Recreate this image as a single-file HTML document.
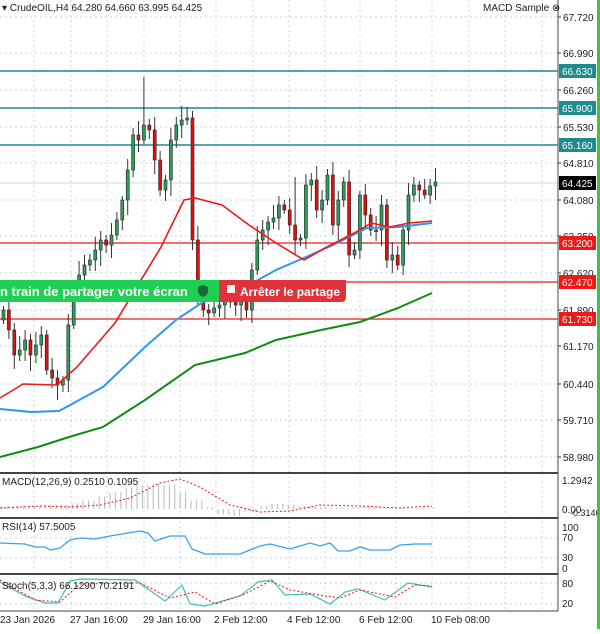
<!DOCTYPE html><html><head><meta charset="utf-8"><style>
body{margin:0;background:#fff;width:600px;height:629px;overflow:hidden;font-family:"Liberation Sans",sans-serif}
svg text{font-family:"Liberation Sans",sans-serif;font-size:10px;fill:#222}
</style></head><body>
<svg id="s" width="600" height="629" xmlns="http://www.w3.org/2000/svg"></svg>
<script>
const S=document.getElementById('s');let h='';
const L=(x1,y1,x2,y2,c,w,d)=>h+=`<line x1="${x1}" y1="${y1}" x2="${x2}" y2="${y2}" stroke="${c}" stroke-width="${w||1}" ${d?`stroke-dasharray="${d}"`:''}/>`;
const R=(x,y,w,hh,c,st)=>h+=`<rect x="${x}" y="${y}" width="${w}" height="${hh}" fill="${c}" ${st?`stroke="${st}" stroke-width="0.6"`:''}/>`;
const T=(x,y,t,o)=>h+=`<text x="${x}" y="${y}" ${o||''}>${t}</text>`;
const P=(pts,c,w,d)=>h+=`<polyline fill="none" stroke="${c}" stroke-width="${w}" ${d?`stroke-dasharray="${d}"`:''} points="${pts.map(p=>p.join(',')).join(' ')}"/>`;
const gx=[34,71,107,144,180,216,253,289,325,360,396,432,469,505,542];
const gy=[17,53,90,127,163,200,236,273,310,346,384,420,457];
gx.forEach(x=>{L(x,0,x,472,'#c8d4e8',1,'2,3');L(x,476,x,516,'#c8d4e8',1,'2,3');L(x,521,x,572,'#c8d4e8',1,'2,3');L(x,577,x,610,'#c8d4e8',1,'2,3');});
gy.forEach(y=>L(0,y,558,y,'#c8d4e8',1,'2,3'));
const labels=['67.720','66.990','66.260','65.530','64.810','64.080','63.350','62.620','61.890','61.170','60.440','59.710','58.980'];
gy.forEach((y,i)=>{T(563,y+4,labels[i]);L(558,y,561,y,'#333');});
[[71,'66.630'],[108,'65.900'],[145,'65.160']].forEach(([y,t])=>{L(0,y,558,y,'#1e8c8c',1.5);R(559,y-7,37,14,'#1e8c8c');T(562,y+4,t,'style="fill:#fff"');});
[[243,'63.200'],[282,'62.470'],[319,'61.730']].forEach(([y,t])=>{L(0,y,558,y,'#f01818',1.3);R(559,y-7,37,14,'#f01818');T(562,y+4,t,'style="fill:#fff"');});
L(0,183,558,183,'#cfd8e6',1);R(559,176,37,14,'#000');T(562,187,'64.425','style="fill:#fff"');
const c=[310,330,355,350,340,355,345,335,370,378,385,380,325,290,275,265,260,250,240,245,235,220,200,170,135,140,125,130,160,190,180,140,125,120,118,240,290,310,313,308,305,300,302,305,300,310,270,240,230,222,218,205,210,225,240,238,185,180,210,200,175,225,200,182,255,250,195,215,230,230,205,260,255,265,230,195,185,190,195,186,182];
let prev=320;
c.forEach((cl,i)=>{const x=2+i*5.4;const o=prev;const top=Math.min(o,cl),bot=Math.max(o,cl);const up=cl<o;
const wt=top-4-((i*7)%11)-(i==26?38:0)-(i==33?10:0)-(i==54?40:0),wb=bot+4+((i*5)%13);
L(x+1.5,wt,x+1.5,wb,'#333',1);R(x,top,3,Math.max(1.5,bot-top),up?'#2e9e5a':'#e01010','#222');prev=cl;});
P([[0,457],[38,447],[69,437],[103,427],[145,400],[195,365],[245,353],[276,340],[321,330],[360,322],[398,308],[432,293]],'#138a13',2);
P([[0,409],[31,412],[59,411],[103,387],[145,347],[176,320],[203,302],[249,285],[276,270],[306,257],[333,245],[367,228],[398,227],[432,223]],'#2f97f0',2);
P([[0,398],[23,384],[57,385],[77,367],[115,323],[161,247],[184,200],[195,198],[222,205],[249,225],[276,243],[304,260],[325,248],[360,230],[371,223],[390,227],[409,223],[432,221]],'#f01818',1.6);
L(0,473,558,473,'#444',2);L(0,518,558,518,'#444',2);L(0,574,558,574,'#444',2);L(0,611,558,611,'#444',1);L(558,0,558,611,'#444',1);
for(let i=0;i<81;i++){const x=2+i*5.4;let v=[0.1,0.12,0.13,0.14,0.16,0.2,0.3,0.45,0.6,0.75,0.85,0.9,0.85,0.6,0.3,0,-0.2,-0.25,-0.1,0.1,0.18,0.15,0.1,0.08,0.06,0.05,0.05,0.06,0.05,0.04,0.02,0.05,0.06][Math.floor(i/2.5)]||0.05;L(x,509,x,509-v*28,'#b8b8b8',1);}
P([[0,508],[40,506],[70,507],[100,505],[130,498],[160,483],[180,479],[200,487],[230,505],[260,512],[290,511],[320,505],[360,506],[400,508],[432,506]],'#f01818',1,'2,2');
T(2,485,'MACD(12,26,9) 0.2510 0.1095');T(562,484,'1.2942');T(562,513,'0.00');T(570,516,'-0.3146','style="font-size:9px"');
L(0,538,558,538,'#c8d4e8',1,'2,3');L(0,558,558,558,'#c8d4e8',1,'2,3');
P([[0,543],[25,544],[35,547],[45,547],[50,550],[60,548],[70,540],[80,538],[95,539],[110,536],[128,533],[140,531],[148,533],[155,541],[170,536],[185,536],[192,549],[205,554],[240,554],[260,546],[270,544],[290,549],[310,543],[320,546],[330,543],[338,551],[350,551],[360,547],[370,550],[390,550],[400,545],[415,544],[432,544]],'#3aa0f0',1.3);
T(2,530,'RSI(14) 57.5005');T(562,531,'100');T(562,541,'70');T(562,561,'30');T(562,572,'0');
L(0,583,558,583,'#c8d4e8',1,'2,3');L(0,604,558,604,'#c8d4e8',1,'2,3');
P([[0,582],[25,596],[45,603],[58,603],[70,581],[80,579],[135,580],[165,601],[182,585],[190,604],[205,606],[240,596],[258,582],[272,580],[285,595],[310,594],[330,604],[345,592],[358,589],[385,600],[408,583],[432,587]],'#40c0b0',1.2);
P([[0,580],[35,600],[60,602],[80,584],[140,583],[170,598],[195,592],[215,604],[245,594],[270,581],[290,590],[325,596],[340,598],[360,590],[395,597],[415,585],[432,586]],'#f01818',1,'2,2');
T(2,589,'Stoch(5,3,3) 66.1290 70.2191');T(562,587,'80');T(562,607,'20');
[[0,'23 Jan 2026'],[70,'27 Jan 16:00'],[143,'29 Jan 16:00'],[214,'2 Feb 12:00'],[287,'4 Feb 12:00'],[359,'6 Feb 12:00'],[431,'10 Feb 08:00']].forEach(([x,t])=>T(x,623,t));
T(2,11,'▾ CrudeOIL,H4  64.280 64.660 63.995 64.425');T(483,11,'MACD Sample ⊗');
R(0,280,220,22,'#22cf55');h+=`<path d="M219,280H346V297Q346,302 341,302H219Z" fill="#e03238"/>`;
T(0,296,'n train de partager votre écran','style="fill:#fff;font-weight:bold;font-size:13px"');
h+=`<path d="M203,285l5,2v4q0,4-5,6q-5-2-5-6v-4z" fill="#1a6b35"/>`;
R(227,285,8,8,'#f0f0f0');T(240,296,'Arrêter le partage','style="fill:#fff;font-weight:bold;font-size:12px"');
R(597,0,3,629,'#3ac83a');
S.innerHTML=h;
</script></body></html>
